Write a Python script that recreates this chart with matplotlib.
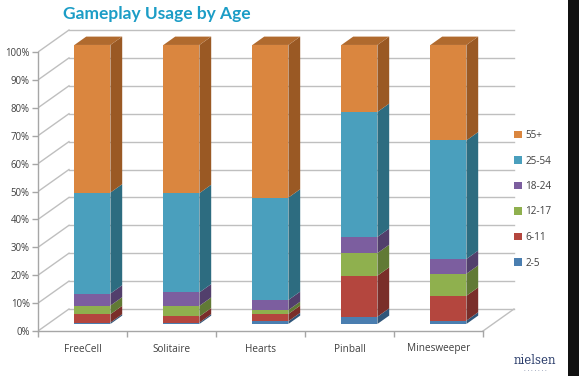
import matplotlib
matplotlib.use("Agg")
import matplotlib.pyplot as plt
from matplotlib.patches import Polygon, Patch, Rectangle

# ---------------- data ----------------
games = ["FreeCell", "Solitaire", "Hearts", "Pinball", "Minesweeper"]
age_groups = ["2-5", "6-11", "12-17", "18-24", "25-54", "55+"]
share_2_5 = [0.5, 0.5, 1.0, 2.6, 1.2]
share_6_11 = [3.0, 2.2, 2.6, 14.7, 8.9]
share_12_17 = [3.1, 3.8, 1.4, 8.1, 7.9]
share_18_24 = [4.3, 4.8, 3.6, 5.8, 5.3]
share_25_54 = [36.2, 35.6, 36.7, 44.8, 42.5]
share_55p = [52.9, 53.1, 54.7, 24.0, 34.2]
y_ticks = [0, 10, 20, 30, 40, 50, 60, 70, 80, 90, 100]
series = [share_2_5, share_6_11, share_12_17, share_18_24, share_25_54, share_55p]

# ---------------- styles ----------------
front_cols = ["#4A7EB0", "#B4463E", "#8FB04E", "#7C5E9F", "#4A9FBD", "#DA863F"]
side_cols = ["#30567A", "#7A2E2A", "#617A35", "#523F6C", "#2D6C80", "#9A5924"]
top_cols = ["#3F6C96", "#9A3B35", "#7A9743", "#6A5088", "#3F88A2", "#B06A2E"]
grid_col = "#BFBFBF"
txt_col = "#404040"

W, H = 579, 376
fig = plt.figure(figsize=(W / 100, H / 100), dpi=100)
fig.patch.set_facecolor("white")

# pixel geometry of the 3D box
px_left, px_bottom = 38, 331
px_cat = 89.0          # px per category
px_pct = 2.79          # px per percent
xmax, ymax = 5.45, 110.0
ax = fig.add_axes([px_left / W, (H - px_bottom) / H,
                   xmax * px_cat / W, ymax * px_pct / H])
ax.set_xlim(0, xmax)
ax.set_ylim(0, ymax)
ax.patch.set_alpha(0)

OX, OY = 31 / px_cat, 22 / px_pct      # wall depth offset (data units)
f0, f1 = 0.32, 0.70                      # bar front/back depth fraction
bw = 36 / px_cat                         # bar front width
n = len(games)

# back wall gridlines, left-wall diagonals, floor
for v in y_ticks:
    ax.plot([OX, n + OX], [v + OY, v + OY], color=grid_col, lw=1, zorder=1)
    ax.plot([0, OX], [v, v + OY], color=grid_col, lw=1, zorder=1)
ax.plot([n, n + OX], [0, OY], color=grid_col, lw=1, zorder=1)

# bars
for i in range(n):
    xc = i + 0.5
    x0 = xc - bw / 2 + f0 * OX
    dy0 = f0 * OY
    ddx, ddy = (f1 - f0) * OX, (f1 - f0) * OY
    base = 0.0
    for k, s in enumerate(series):
        h = s[i]
        b = base + dy0
        ax.bar(x0, h, width=bw, bottom=b, align="edge", color=front_cols[k],
               lw=0, zorder=3)
        xr = x0 + bw
        side = Polygon([(xr, b), (xr + ddx, b + ddy), (xr + ddx, b + h + ddy), (xr, b + h)],
                       closed=True, facecolor=side_cols[k], lw=0, zorder=3)
        ax.add_patch(side)
        if k == len(series) - 1:
            t = b + h
            top = Polygon([(x0, t), (xr, t), (xr + ddx, t + ddy), (x0 + ddx, t + ddy)],
                          closed=True, facecolor=top_cols[k], lw=0, zorder=3)
            ax.add_patch(top)
        base += h

# axes
for sp in ["top", "right"]:
    ax.spines[sp].set_visible(False)
ax.spines["left"].set_bounds(0, 100)
ax.spines["bottom"].set_bounds(0, n)
for sp in ["left", "bottom"]:
    ax.spines[sp].set_color("#A6A6A6")
    ax.spines[sp].set_linewidth(1)
ax.set_yticks(y_ticks)
ax.set_yticklabels([f"{v}%" for v in y_ticks])
ax.tick_params(axis="y", length=4, width=1, color="#A6A6A6", labelsize=6.9,
               labelcolor=txt_col, pad=2)
ax.set_xticks([i + 0.5 for i in range(n)])
ax.set_xticklabels(games)
ax.set_xticks(range(n + 1), minor=True)
ax.tick_params(axis="x", which="major", length=0, labelsize=7.2, labelcolor=txt_col, pad=9)
ax.tick_params(axis="x", which="minor", length=4, width=1, color="#A6A6A6")
for lab in ax.get_xticklabels() + ax.get_yticklabels():
    lab.set_family("Open Sans")

# legend
handles = [Patch(facecolor=front_cols[k], edgecolor="none", label=age_groups[k])
           for k in range(len(age_groups) - 1, -1, -1)]
leg = fig.legend(handles=handles, loc="upper left",
                 bbox_to_anchor=(514 / W, 1 - 130 / H), frameon=False,
                 prop={"family": "Open Sans", "size": 7.2},
                 handlelength=0.75, handleheight=0.75, handletextpad=0.4,
                 labelspacing=1.45, borderaxespad=0, borderpad=0)
for t in leg.get_texts():
    t.set_color(txt_col)

# title
fig.text(63 / W, 1 - 14 / H, "Gameplay Usage by Age", ha="left", va="center",
         fontsize=12.5, fontweight="bold", color="#1C9DC6", family="Lato")

# nielsen logo text
fig.text(535 / W, 1 - 361 / H, "nielsen", ha="center", va="center",
         fontsize=8.5, color="#2B3D6B", family="DejaVu Serif")
fig.text(535 / W, 1 - 370 / H, "· · · · · · ·", ha="center", va="center",
         fontsize=4, color="#2B3D6B")

# dark right edge strip
fig.patches.append(Rectangle((568 / W, 0), 11 / W, 1, transform=fig.transFigure,
                             facecolor="#111111", edgecolor="none", zorder=10))

fig.savefig("out.png", dpi=100, facecolor="white")
